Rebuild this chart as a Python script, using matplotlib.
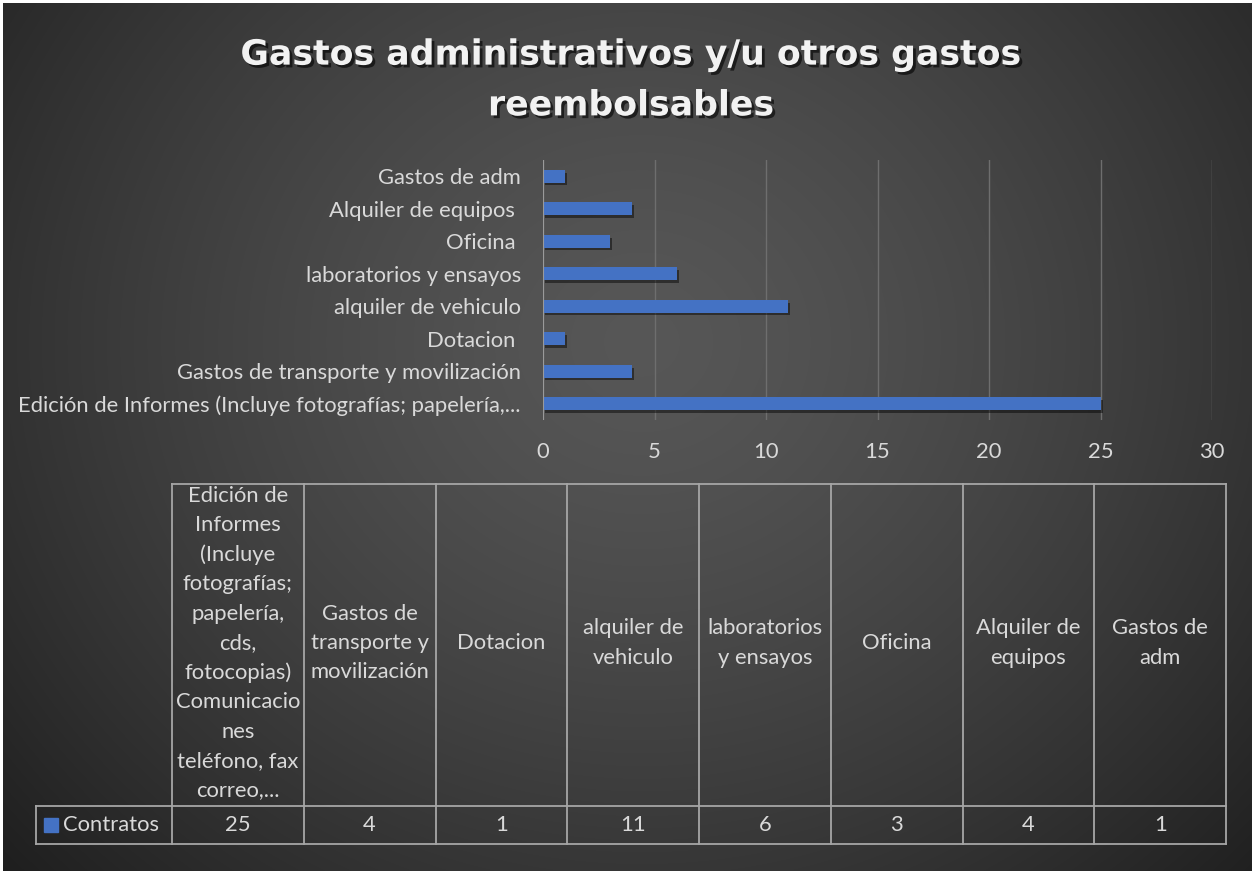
import numpy as np
import matplotlib.pyplot as plt
import matplotlib.patheffects as pe
from matplotlib.patches import Rectangle

plt.rcParams['font.family'] = ['Lato', 'DejaVu Sans']

# datos del grafico
categorias = ['Edición de Informes (Incluye fotografías; papelería,...',
              'Gastos de transporte y movilización',
              'Dotacion ',
              'alquiler de vehiculo',
              'laboratorios y ensayos',
              'Oficina ',
              'Alquiler de equipos ',
              'Gastos de adm']
contratos = [25, 4, 1, 11, 6, 3, 4, 1]
encabezados_tabla = ['Edición de\nInformes\n(Incluye\nfotografías;\npapelería,\ncds,\nfotocopias)\nComunicacio\nnes\nteléfono, fax\ncorreo,...',
                     'Gastos de\ntransporte y\nmovilización',
                     'Dotacion',
                     'alquiler de\nvehiculo',
                     'laboratorios\ny ensayos',
                     'Oficina',
                     'Alquiler de\nequipos',
                     'Gastos de\nadm']
serie = 'Contratos'
ticks_x = [0, 5, 10, 15, 20, 25, 30]
titulo = 'Gastos administrativos y/u otros gastos\nreembolsables'

AZUL = '#4472C4'
TEXTO = '#d9d9d9'
LINEA = '#a6a6a6'
FS = 15.8

W, H = 1252, 871
fig = plt.figure(figsize=(W / 100, H / 100), dpi=100, facecolor='white')

# fondo con degradado radial
bg = fig.add_axes([0, 0, 1, 1])
bg.set_xlim(0, W)
bg.set_ylim(H, 0)
bg.axis('off')
yy, xx = np.mgrid[0:H, 0:W]
r = np.hypot(xx - 640, (yy - 340) * 1.1)
r = r / r.max()
shade = 0.34 - 0.22 * r ** 1.4
img = np.dstack([shade, shade, shade])
bg.imshow(img, extent=(3, W, H, 4), aspect='auto', zorder=0, interpolation='bilinear')

# titulo
fig.text(631 / W, 1 - 80 / H, titulo, ha='center', va='center', fontsize=25,
         fontweight='bold', family=['DejaVu Sans'], color='#f2f2f2',
         linespacing=1.62,
         path_effects=[pe.withSimplePatchShadow(offset=(2, -2), shadow_rgbFace='black', alpha=0.6)])

# barras
ax = fig.add_axes([543 / W, 1 - 420 / H, (1212 - 543) / W, 260 / H])
ax.patch.set_alpha(0)
y = np.arange(len(categorias))
ax.barh(y, contratos, height=0.39, color=AZUL, zorder=3,
        path_effects=[pe.withSimplePatchShadow(offset=(1.5, -2), shadow_rgbFace='black', alpha=0.45)])
ax.set_ylim(-0.5, len(categorias) - 0.5)
ax.set_xlim(0, 30)
ax.set_xticks(ticks_x)
ax.set_yticks(y, categorias)
for s in ax.spines.values():
    s.set_visible(False)
ax.grid(axis='x', color='#6e6e6e', linewidth=1, zorder=1)
ax.axvline(0, color='#9a9a9a', linewidth=1.5, zorder=4)
ax.tick_params(axis='both', length=0, colors=TEXTO, labelsize=FS)
ax.tick_params(axis='y', pad=16)
ax.tick_params(axis='x', pad=16)

# tabla de datos
x0, x1 = 172, 1226
ytop, ymid, ybot = 484, 806, 844
colw = (x1 - x0) / len(contratos)
kw = dict(color=LINEA, linewidth=1.3, zorder=2)
bg.plot([x0, x1], [ytop, ytop], **kw)
bg.plot([36, x1], [ymid, ymid], **kw)
bg.plot([36, x1], [ybot, ybot], **kw)
bg.plot([36, 36], [ymid, ybot], **kw)
for i in range(len(contratos) + 1):
    xc = x0 + i * colw
    bg.plot([xc, xc], [ytop, ybot], **kw)
for i, (enc, v) in enumerate(zip(encabezados_tabla, contratos)):
    xc = x0 + (i + 0.5) * colw
    bg.text(xc, (ytop + ymid) / 2 - 2, enc, ha='center', va='center', fontsize=FS,
            color=TEXTO, linespacing=1.58, zorder=3)
    bg.text(xc, (ymid + ybot) / 2, str(v), ha='center', va='center', fontsize=FS,
            color=TEXTO, zorder=3)
bg.add_patch(Rectangle((44, 818), 14, 14, color=AZUL, zorder=3))
bg.text(63, (ymid + ybot) / 2, serie, ha='left', va='center', fontsize=FS,
        color=TEXTO, zorder=3)

fig.savefig('out.png', dpi=100, facecolor=fig.get_facecolor())
